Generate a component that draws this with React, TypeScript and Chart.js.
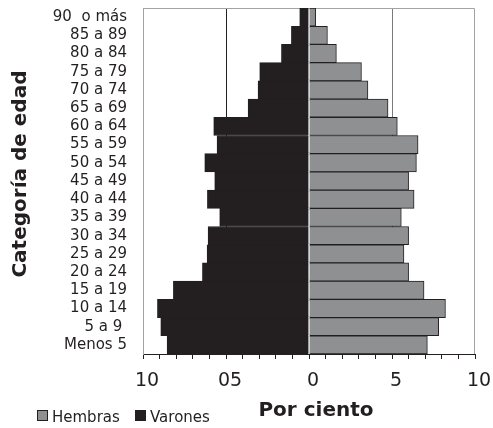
import React, { useEffect, useRef } from "react";
import { Chart, registerables } from "chart.js";

Chart.register(...registerables);

const categories = [
  "90  o más", "85 a 89", "80 a 84", "75 a 79", "70 a 74", "65 a 69", "60 a 64",
  "55 a 59", "50 a 54", "45 a 49", "40 a 44", "35 a 39", "30 a 34", "25 a 29",
  "20 a 24", "15 a 19", "10 a 14", "5 a 9 ", "Menos 5",
];

const hembras = [0.4, 1.11, 1.65, 3.16, 3.55, 4.76, 5.32, 6.57, 6.47, 6.0, 6.33, 5.56, 6.0, 5.72, 6.0, 6.93, 8.22, 7.81, 7.13];

const varones = [-0.56, -1.06, -1.66, -2.97, -3.07, -3.67, -5.74, -5.54, -6.28, -5.68, -6.12, -5.38, -6.08, -6.14, -6.42, -8.17, -9.13, -8.93, -8.55];

const xTickLabels: Record<string, string> = { "-10": "10", "-5": "05", "0": "0", "5": "5", "10": "10" };

const DARK = "#231f20";
const GRAY = "#8f9092";
const FONT = "'DejaVu Sans', sans-serif";

const framePlugin = {
  id: "frame",
  beforeDatasetsDraw(chart: any) {
    const { ctx, chartArea } = chart;
    const { left, right, top, bottom } = chartArea;
    ctx.save();
    ctx.strokeStyle = "#a3a3a3";
    ctx.lineWidth = 1;
    ctx.beginPath();
    ctx.moveTo(left + 0.5, bottom);
    ctx.lineTo(left + 0.5, top + 0.5);
    ctx.lineTo(right - 0.5, top + 0.5);
    ctx.lineTo(right - 0.5, bottom);
    ctx.stroke();
    ctx.restore();
  },
  afterDraw(chart: any) {
    const { ctx } = chart;
    const ds = chart.data.datasets;
    const positions = [37, 135];
    ctx.save();
    ctx.font = `15px ${FONT}`;
    ctx.textBaseline = "alphabetic";
    ctx.textAlign = "left";
    ds.forEach((d: any, i: number) => {
      const x = positions[i];
      const y = 410;
      ctx.fillStyle = d.backgroundColor;
      ctx.fillRect(x, y, 11, 11);
      ctx.strokeStyle = DARK;
      ctx.lineWidth = 1;
      ctx.strokeRect(x + 0.5, y + 0.5, 10, 10);
      ctx.fillStyle = DARK;
      ctx.fillText(d.label, x + 15, 421.5);
    });
    ctx.restore();
  },
};

export default function App() {
  const ref = useRef<HTMLCanvasElement>(null);

  useEffect(() => {
    document.body.style.margin = "0";
    const canvas = ref.current!;
    const chart = new Chart(canvas, {
      type: "bar",
      data: {
        labels: categories,
        datasets: [
          {
            label: "Hembras",
            data: hembras,
            backgroundColor: GRAY,
            borderColor: DARK,
            borderWidth: 1,
            barPercentage: 1,
            categoryPercentage: 1,
          },
          {
            label: "Varones",
            data: varones,
            backgroundColor: DARK,
            borderColor: DARK,
            borderWidth: 1,
            barPercentage: 1,
            categoryPercentage: 1,
          },
        ],
      },
      options: {
        indexAxis: "y",
        animation: false,
        responsive: false,
        maintainAspectRatio: false,
        layout: { padding: { left: 0, right: 18, top: 8, bottom: 0 } },
        plugins: {
          legend: { display: false },
          tooltip: { enabled: false },
        },
        scales: {
          x: {
            type: "linear",
            stacked: true,
            min: -10,
            max: 10,
            afterFit: (s: any) => {
              s.height = 74;
              s.paddingLeft = 0;
              s.paddingRight = 0;
            },
            border: { display: true, color: DARK, width: 1 },
            grid: {
              display: true,
              drawOnChartArea: true,
              drawTicks: true,
              tickLength: 5,
              tickColor: DARK,
              color: (c: any) => {
                const v = c.tick ? c.tick.value : null;
                if (v === -5) return DARK;
                if (v === 5) return "#7a7a7a";
                return "rgba(0,0,0,0)";
              },
            },
            ticks: {
              stepSize: 1,
              autoSkip: false,
              maxRotation: 0,
              minRotation: 0,
              padding: 11,
              labelOffset: 4,
              color: DARK,
              font: { family: FONT, size: 19 },
              callback: (v: any) => xTickLabels[String(v)] ?? "",
            },
            title: {
              display: true,
              text: "  Por ciento",
              color: DARK,
              font: { family: FONT, size: 20, weight: "bold" },
              padding: { top: 0, bottom: 5 },
            },
          },
          y: {
            stacked: true,
            afterFit: (s: any) => {
              s.width = 143;
              s.paddingTop = 0;
              s.paddingBottom = 0;
            },
            border: { display: true, color: "#a3a3a3", width: 1 },
            grid: { display: false, drawTicks: false },
            ticks: {
              autoSkip: false,
              padding: 16,
              color: DARK,
              font: { family: FONT, size: 15 },
            },
            title: {
              display: true,
              text: "  Categoría de edad",
              color: DARK,
              font: { family: FONT, size: 20, weight: "bold" },
              padding: { top: 9, bottom: 0 },
            },
          },
        },
      },
      plugins: [framePlugin],
    });
    return () => chart.destroy();
  }, []);

  return (
    <div style={{ width: 493, height: 428 }}>
      <canvas ref={ref} width={493} height={428} style={{ display: "block" }} />
    </div>
  );
}
